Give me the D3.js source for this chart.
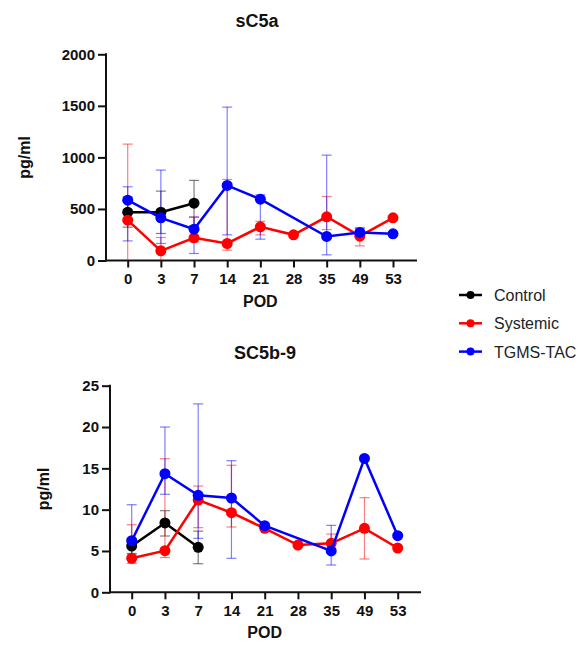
<!DOCTYPE html>
<html>
<head>
<meta charset="utf-8">
<script src="https://cdn.jsdelivr.net/npm/d3@7"></script>
<style>
  body { margin: 0; background: #fff; }
  svg text { font-family: "Liberation Sans", Arial, sans-serif; }
  .tick text { font-size: 15px; font-weight: bold; fill: #111; }
  .tick line, .axis-line { stroke: #111; stroke-width: 2; }
  .title { font-size: 18px; font-weight: bold; fill: #111; }
  .ylab, .xlab { font-size: 16px; font-weight: bold; fill: #111; }
  .legend text { font-size: 16px; fill: #222; }
</style>
</head>
<body>
<svg id="chart" width="585" height="648"></svg>
<script>
// categories
var pods = ['0', '3', '7', '14', '21', '28', '35', '49', '53'];
var groups = ['Control', 'Systemic', 'TGMS-TAC'];
var colors = ['#000000', '#ff0000', '#0000ff'];

// sC5a values (pg/ml), null = no point / no bar
var c5aControl   = [469, 469, 556, null, null, null, null, null, null];
var c5aControlHi = [615, 673, 777, null, null, null, null, null, null];
var c5aControlLo = [323, 262, 335, null, null, null, null, null, null];

var c5aSystemic   = [391, 94, 220, 165, 327, 249, 424, 236, 414];
var c5aSystemicHi = [1129, 223, 423, 786, 380, null, 621, 320, null];
var c5aSystemicLo = [0, 0, 181, 100, 249, null, 300, 142, null];

var c5aTgms   = [585, 414, 304, 728, 595, null, 233, 272, 259];
var c5aTgmsHi = [715, 877, 420, 1488, 637, null, 1022, 310, null];
var c5aTgmsLo = [190, 165, 68, 249, 207, null, 55, 250, null];

// SC5b-9 values (pg/ml)
var c5b9Control   = [5.6, 8.39, 5.44, null, null, null, null, null, null];
var c5b9ControlHi = [6.5, 9.88, 7.4, null, null, null, null, null, null];
var c5b9ControlLo = [4.7, 6.81, 3.46, null, null, null, null, null, null];

var c5b9Systemic   = [4.11, 5.04, 11.17, 9.63, 7.74, 5.72, 5.93, 7.74, 5.36];
var c5b9SystemicHi = [8.18, 16.17, 12.86, 15.37, null, null, 7.05, 11.45, null];
var c5b9SystemicLo = [3.5, 4.2, 7.82, 7.9, null, null, 4.8, 4.03, null];

var c5b9Tgms   = [6.24, 14.35, 11.73, 11.41, 8.06, null, 5.0, 16.2, 6.85];
var c5b9TgmsHi = [10.6, 20.0, 22.8, 15.93, null, null, 8.1, null, null];
var c5b9TgmsLo = [4.5, 11.86, 6.53, 4.11, null, null, 3.3, null, null];

var c5aTicks = [0, 500, 1000, 1500, 2000];
var c5b9Ticks = [0, 5, 10, 15, 20, 25];

var svg = d3.select('#chart');

function panel(opt){
    var g = svg.append('g');

    var x = d3.scalePoint().domain(pods).range([opt.x0, opt.x1]);
    var y = d3.scaleLinear().domain([0, opt.max]).range([opt.yBase, opt.yTop]);

    // y axis
    var ya = g.append('g')
        .attr('transform', 'translate(' + opt.axisX + ',0)')
        .call(d3.axisLeft(y).tickValues(opt.ticks).tickFormat(d3.format('d'))
            .tickSize(8).tickPadding(3).tickSizeOuter(0));
    ya.select('.domain').remove();

    // x axis
    var xa = g.append('g')
        .attr('transform', 'translate(0,' + opt.yBase + ')')
        .call(d3.axisBottom(x).tickSize(7).tickPadding(6));
    xa.select('.domain').remove();

    g.append('line').attr('class', 'axis-line')
        .attr('x1', opt.axisX).attr('x2', opt.axisX)
        .attr('y1', opt.yTop - 1).attr('y2', opt.yBase + 1);
    g.append('line').attr('class', 'axis-line')
        .attr('x1', opt.axisX - 1).attr('x2', opt.axisEnd)
        .attr('y1', opt.yBase).attr('y2', opt.yBase);

    // title + labels
    g.append('text').attr('class', 'title')
        .attr('x', opt.titleX).attr('y', opt.titleY)
        .attr('text-anchor', 'middle').text(opt.title);
    g.append('text').attr('class', 'ylab')
        .attr('transform', 'translate(' + opt.ylabX + ',' + (opt.yTop + opt.yBase) / 2 + ') rotate(-90)')
        .attr('text-anchor', 'middle').text('pg/ml');
    g.append('text').attr('class', 'xlab')
        .attr('x', (opt.x0 + opt.x1) / 2).attr('y', opt.yBase + 46)
        .attr('text-anchor', 'middle').text('POD');

    // error bars first, then lines and dots
    opt.series.forEach(function(s, i){
        var col = colors[i];
        var eb = g.append('g').attr('stroke', col).attr('stroke-opacity', 0.5).attr('stroke-width', 1.2);
        pods.forEach(function(p, j){
            if (s.mean[j] == null) return;
            var hi = s.hi[j], lo = s.lo[j];
            if (hi == null && lo == null) return;
            var cx = x(p);
            var top = hi == null ? s.mean[j] : hi;
            var bot = lo == null ? s.mean[j] : lo;
            eb.append('line')
                .attr('x1', cx).attr('x2', cx)
                .attr('y1', y(top)).attr('y2', y(bot));
            if (hi != null) eb.append('line').attr('x1', cx - 5).attr('x2', cx + 5).attr('y1', y(hi)).attr('y2', y(hi));
            if (lo != null && lo > 0) eb.append('line').attr('x1', cx - 5).attr('x2', cx + 5).attr('y1', y(lo)).attr('y2', y(lo));
        });
    });

    opt.series.forEach(function(s, i){
        var col = colors[i];
        var pts = pods.map(function(p, j){ return {p: p, v: s.mean[j]}; })
            .filter(function(d){ return d.v != null; });

        g.append('path')
            .datum(pts)
            .attr('fill', 'none')
            .attr('stroke', col)
            .attr('stroke-width', 2.5)
            .attr('d', d3.line().x(function(d){ return x(d.p); }).y(function(d){ return y(d.v); }));

        g.selectAll(null).data(pts).enter().append('circle')
            .attr('cx', function(d){ return x(d.p); })
            .attr('cy', function(d){ return y(d.v); })
            .attr('r', 5.5)
            .attr('fill', col);
    });
}

panel({
    title: 'sC5a', titleX: 257, titleY: 27,
    max: 2000, ticks: c5aTicks,
    axisX: 106, axisEnd: 417, x0: 127.7, x1: 393,
    yBase: 260.5, yTop: 54.3, ylabX: 30,
    series: [
        {mean: c5aControl, hi: c5aControlHi, lo: c5aControlLo},
        {mean: c5aSystemic, hi: c5aSystemicHi, lo: c5aSystemicLo},
        {mean: c5aTgms, hi: c5aTgmsHi, lo: c5aTgmsLo}
    ]
});

panel({
    title: 'SC5b-9', titleX: 265, titleY: 359,
    max: 25, ticks: c5b9Ticks,
    axisX: 110, axisEnd: 421, x0: 131.7, x1: 397.7,
    yBase: 592.3, yTop: 385.7, ylabX: 49,
    series: [
        {mean: c5b9Control, hi: c5b9ControlHi, lo: c5b9ControlLo},
        {mean: c5b9Systemic, hi: c5b9SystemicHi, lo: c5b9SystemicLo},
        {mean: c5b9Tgms, hi: c5b9TgmsHi, lo: c5b9TgmsLo}
    ]
});

// legend
var lg = svg.append('g').attr('class', 'legend');
groups.forEach(function(name, i){
    var yy = 295 + i * 28.3;
    lg.append('line')
        .attr('x1', 459).attr('x2', 482).attr('y1', yy).attr('y2', yy)
        .attr('stroke', colors[i]).attr('stroke-width', 2.5);
    lg.append('circle').attr('cx', 470.5).attr('cy', yy).attr('r', 4).attr('fill', colors[i]);
    lg.append('text').attr('x', 494).attr('y', yy + 6).text(name);
});
</script>
</body>
</html>
